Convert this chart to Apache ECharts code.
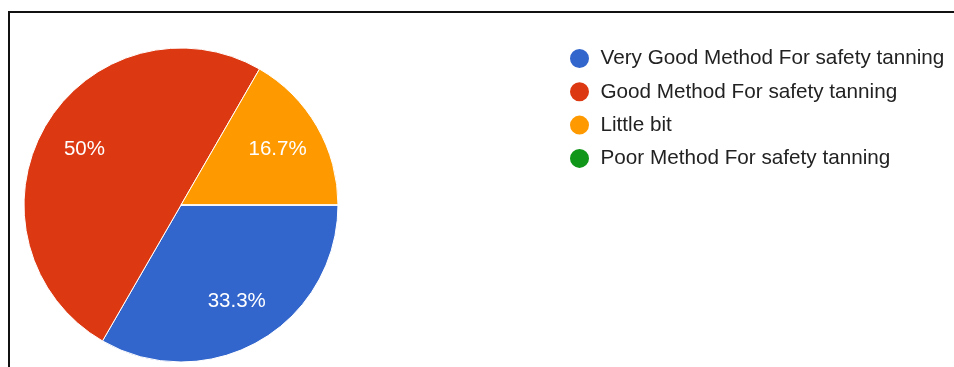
<!DOCTYPE html>
<html>
<head>
<meta charset="utf-8">
<script src="https://cdn.jsdelivr.net/npm/echarts@6/dist/echarts.min.js"></script>
<style>
	html, body { margin: 0; padding: 0; background: #fff; }
	#main { position: absolute; left: 0; top: 0; width: 954px; height: 367px; }
	#frame { position: absolute; left: 8px; top: 11px; width: 1000px; height: 400px;
		border-top: 2px solid #111; border-left: 2px solid #111; pointer-events: none; }
</style>
</head>
<body>
<div id="main"></div>
<div id="frame"></div>
<script>
// 数据
var categories = [
	'Very Good Method For safety tanning',
	'Good Method For safety tanning',
	'Little bit',
	'Poor Method For safety tanning'
];
var values = [2, 3, 1, 0];
var colors = ['#3366cc', '#dc3912', '#ff9900', '#109618'];

window.onload = function() {

	var myChart = echarts.init(document.getElementById('main'));

	var pieData = categories.map(function(name, i) {
		return { name: name, value: values[i] };
	});

	var option = {
		color: colors,
		animation: false,
		legend: {
			orient: 'vertical',
			left: 563,
			top: 42,
			icon: 'circle',
			itemWidth: 32,
			itemHeight: 21,
			itemGap: 10.3,
			textStyle: {
				fontFamily: 'Liberation Sans, Arial',
				fontSize: 20.7,
				lineHeight: 21,
				color: '#222'
			}
		},
		series: [
		{
			// 饼图本体
			name: 'main',
			type: 'pie',
			center: [181, 205],
			radius: [0, 157],
			startAngle: 0,
			clockwise: true,
			percentPrecision: 1,
			label: { show: false },
			labelLine: { show: false },
			emphasis: { disabled: true },
			itemStyle: {
				borderColor: '#fff',
				borderWidth: 1
			},
			data: pieData
		},
		{
			// 标签层 (透明)
			name: 'labels',
			type: 'pie',
			silent: true,
			center: [181, 205],
			radius: [60, 157],
			startAngle: 0,
			clockwise: true,
			percentPrecision: 1,
			legendHoverLink: false,
			itemStyle: { color: 'rgba(0,0,0,0)' },
			label: {
				position: 'inside',
				fontFamily: 'Liberation Sans, Arial',
				fontSize: 20.5,
				color: '#fff',
				formatter: function(p) {
					return p.value ? p.percent + '%' : '';
				}
			},
			labelLine: { show: false },
			data: pieData
		}
		]
	};

	myChart.setOption(option);
}
</script>
</body>
</html>
